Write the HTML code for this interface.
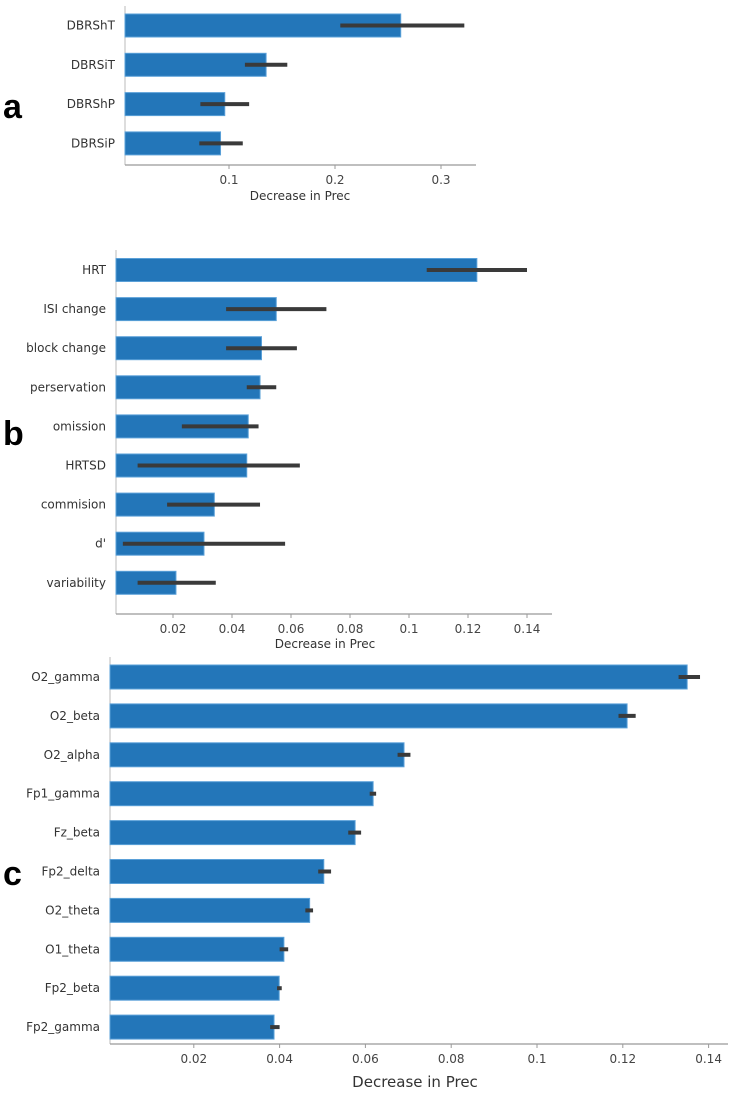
<!DOCTYPE html>
<html><head><meta charset="utf-8"><style>
html,body{margin:0;padding:0;background:#fff;}
svg{display:block;font-family:"DejaVu Sans","Liberation Sans",sans-serif;}
</style></head><body>
<svg id="fig" width="738" height="1102" viewBox="0 0 738 1102"></svg>
<script>
// Panel a
const catsA = ["DBRShT","DBRSiT","DBRShP","DBRSiP"];
const valsA = [0.262,0.135,0.096,0.092];
const loA = [0.205,0.115,0.073,0.072];
const hiA = [0.322,0.155,0.119,0.113];
const ticksA = [0.1,0.2,0.3];
const tickLabA = ["0.1","0.2","0.3"];
// Panel b
const catsB = ["HRT","ISI change","block change","perservation","omission","HRTSD","commision","d'","variability"];
const valsB = [0.123,0.055,0.050,0.0495,0.0455,0.045,0.034,0.0305,0.021];
const loB = [0.106,0.038,0.038,0.045,0.023,0.008,0.018,0.003,0.008];
const hiB = [0.140,0.072,0.062,0.055,0.049,0.063,0.0495,0.058,0.0345];
const ticksB = [0.02,0.04,0.06,0.08,0.1,0.12,0.14];
const tickLabB = ["0.02","0.04","0.06","0.08","0.1","0.12","0.14"];
// Panel c
const catsC = ["O2_gamma","O2_beta","O2_alpha","Fp1_gamma","Fz_beta","Fp2_delta","O2_theta","O1_theta","Fp2_beta","Fp2_gamma"];
const valsC = [0.135,0.121,0.069,0.0618,0.0576,0.0503,0.047,0.041,0.0399,0.0387];
const loC = [0.133,0.119,0.0675,0.061,0.056,0.049,0.046,0.040,0.0394,0.0378];
const hiC = [0.138,0.123,0.0705,0.0625,0.059,0.052,0.0478,0.042,0.0405,0.040];
const ticksC = [0.02,0.04,0.06,0.08,0.1,0.12,0.14];
const tickLabC = ["0.02","0.04","0.06","0.08","0.1","0.12","0.14"];

const NS="http://www.w3.org/2000/svg";
const svg=document.getElementById('fig');
function mk(tag,attrs,parent){const e=document.createElementNS(NS,tag);for(const k in attrs)e.setAttribute(k,attrs[k]);(parent||svg).appendChild(e);return e;}

function panel(p){
  const g=mk('g',{});
  
  
  const x=v=>p.x0+v*p.scale;
  const y=i=>p.yFirst+i*p.step;
  const ya=mk('line',{x1:p.x0+2,x2:p.x0+2,y1:p.yTop,y2:p.axisY,stroke:'#bbb','stroke-width':1},g);
  
  
  const xa=mk('line',{x1:p.x0+2,x2:p.xEnd,y1:p.axisY,y2:p.axisY,stroke:'#999','stroke-width':1.2},g);
  
  
  p.ticks.forEach((t,i)=>{
    const tl=mk('line',{x1:x(t),x2:x(t),y1:p.axisY,y2:p.axisY+4,stroke:'#999'},g);
    
    
    const tx=mk('text',{x:x(t),y:p.axisY+19,'text-anchor':'middle','font-size':p.tickFs,fill:'#444'},g);
    tx.textContent=p.tickLab[i];
    
    
  });
  const xl=mk('text',{x:p.xlX,y:p.xlY,'text-anchor':'middle','font-size':p.xlFs,fill:'#333'},g);
  xl.textContent='Decrease in Prec';
  
  
  p.cats.forEach((c,i)=>{
    const cy=y(i);
    const b=mk('rect',{x:p.x0+2,y:cy-p.bh/2,width:x(p.vals[i])-p.x0-2,height:p.bh,fill:'#2376b9',stroke:'#5aa0d8','stroke-width':1},g);
    
    
    const e=mk('line',{x1:x(p.lo[i]),x2:x(p.hi[i]),y1:cy,y2:cy,stroke:'#3a3a3a','stroke-width':p.ew},g);
    
    
    const t=mk('text',{x:p.x0-8,y:cy+4,'text-anchor':'end','font-size':p.labFs,fill:'#333'},g);
    t.textContent=c;
    
    
  });
  const pl=mk('text',{x:p.plX,y:p.plY,'font-size':34,'font-weight':'bold',fill:'#000','font-family':'Liberation Sans, sans-serif'},g);
  pl.textContent=p.id;
  
  
}

panel({id:'a',cats:catsA,vals:valsA,lo:loA,hi:hiA,ticks:ticksA,tickLab:tickLabA,
  x0:123,scale:1060,yFirst:25.5,step:39.3,bh:23,yTop:6,axisY:165,xEnd:476,
  tickFs:12,xlX:300,xlY:200,xlFs:12,labFs:12,ew:4,plX:3,plY:118});
panel({id:'b',cats:catsB,vals:valsB,lo:loB,hi:hiB,ticks:ticksB,tickLab:tickLabB,
  x0:114,scale:2950,yFirst:270,step:39.1,bh:23,yTop:250,axisY:614,xEnd:552,
  tickFs:12,xlX:325,xlY:648,xlFs:12,labFs:12,ew:4,plX:3,plY:445});
panel({id:'c',cats:catsC,vals:valsC,lo:loC,hi:hiC,ticks:ticksC,tickLab:tickLabC,
  x0:108,scale:4290,yFirst:677,step:38.9,bh:24,yTop:657,axisY:1044,xEnd:728,
  tickFs:12,xlX:415,xlY:1087,xlFs:15,labFs:12,ew:4,plX:3,plY:885});
</script>
</body></html>
